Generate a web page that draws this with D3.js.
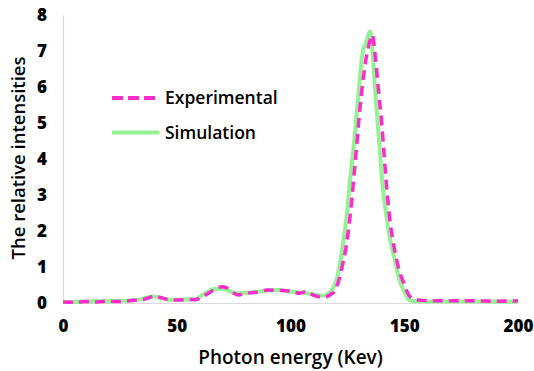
<!DOCTYPE html>
<html>
<head>
<meta charset="utf-8">
<script src="https://cdn.jsdelivr.net/npm/d3@7"></script>
<style>
  body { margin: 0; background: #fff; }
  text { font-family: "Open Sans", sans-serif; fill: #000; }
</style>
</head>
<body>
<div id="chart"></div>
<script>
// photon energy (keV)
var energy = [0, 5, 10, 15, 20, 25, 30, 34, 38, 40, 42, 46, 50, 55, 58, 62, 66, 70, 72, 75, 77, 80,
  85, 90, 95, 100, 104, 107, 110, 112, 114, 116, 118,
  119, 120, 121, 122, 123, 124, 125, 126, 127, 128, 129, 130, 131, 132, 133, 134, 135, 136, 137, 138,
  139, 140, 141, 142, 143, 144, 145, 146, 147, 148, 149, 150, 151, 152, 153,
  155, 157, 160, 170, 180, 190, 200];

var experimental = [0.03, 0.02, 0.04, 0.03, 0.05, 0.04, 0.07, 0.08, 0.15, 0.2, 0.17, 0.1, 0.08, 0.1, 0.09, 0.2, 0.35, 0.45, 0.42, 0.28, 0.22, 0.27,
  0.3, 0.36, 0.35, 0.33, 0.27, 0.32, 0.22, 0.18, 0.15, 0.18, 0.25,
  0.3, 0.42, 0.58, 0.8, 1.1, 1.4, 1.8, 2.3, 2.9, 3.6, 4.3, 5.05, 5.7, 6.25, 6.7, 7.05, 7.3, 7.45, 7.0, 6.35,
  5.7, 5.05, 4.25, 3.4, 2.7, 2.15, 1.75, 1.4, 1.1, 0.85, 0.68, 0.52, 0.35, 0.22, 0.15,
  0.1, 0.08, 0.07, 0.06, 0.06, 0.05, 0.06];

var simulation = [0.03, 0.03, 0.04, 0.05, 0.05, 0.06, 0.07, 0.1, 0.17, 0.18, 0.15, 0.1, 0.09, 0.1, 0.11, 0.25, 0.38, 0.4, 0.37, 0.28, 0.27, 0.28,
  0.31, 0.35, 0.36, 0.32, 0.29, 0.27, 0.24, 0.22, 0.2, 0.24, 0.35,
  0.45, 0.6, 0.85, 1.2, 1.6, 2.1, 2.6, 3.3, 3.9, 4.5, 5.2, 5.9, 6.6, 7.05, 7.2, 7.4, 7.55, 7.0, 6.1, 5.25,
  4.45, 3.6, 2.95, 2.5, 2.05, 1.7, 1.42, 1.15, 0.85, 0.62, 0.45, 0.3, 0.18, 0.1, 0.07,
  0.05, 0.04, 0.04, 0.04, 0.04, 0.04, 0.04];

var xTicks = [0, 50, 100, 150, 200];
var yTicks = [0, 1, 2, 3, 4, 5, 6, 7, 8];
var seriesNames = ['Experimental', 'Simulation'];

var W = 534, H = 371;
var margin = { top: 15, right: 16, bottom: 68, left: 63 };
var width = W - margin.left - margin.right;
var height = H - margin.top - margin.bottom;

var svg = d3.select('#chart')
  .append('svg')
  .attr('width', W)
  .attr('height', H)
  .append('g')
  .attr('transform', `translate(${margin.left},${margin.top})`);

var x = d3.scaleLinear().domain([0, 200]).range([0, width]);
var y = d3.scaleLinear().domain([0, 8]).range([height, 0]);

// axes (light gray lines, no tick marks)
var xAxis = svg.append('g')
  .attr('transform', `translate(0,${height})`)
  .call(d3.axisBottom(x).tickValues(xTicks).tickSize(0).tickPadding(17));
var yAxis = svg.append('g')
  .call(d3.axisLeft(y).tickValues(yTicks).tickSize(0).tickPadding(16));
[xAxis, yAxis].forEach(function (a) {
  a.select('.domain').attr('stroke', '#d9d9d9').attr('stroke-width', 1.2);
  a.selectAll('text')
    .attr('font-family', '"Open Sans", sans-serif')
    .attr('font-size', 17)
    .attr('font-weight', 800)
    .attr('fill', '#000');
});

var sim = energy.map(function (e, i) { return { x: e, y: simulation[i] }; });
var exp = energy.map(function (e, i) { return { x: e, y: experimental[i] }; });

var line = d3.line()
  .x(function (d) { return x(d.x); })
  .y(function (d) { return y(d.y); })
  .curve(d3.curveMonotoneX);

svg.append('path')
  .datum(sim)
  .attr('fill', 'none')
  .attr('stroke', '#94f294')
  .attr('stroke-width', 4)
  .attr('stroke-linejoin', 'round')
  .attr('d', line);

svg.append('path')
  .datum(exp)
  .attr('fill', 'none')
  .attr('stroke', '#ff2ccb')
  .attr('stroke-width', 3.5)
  .attr('stroke-dasharray', '10,6')
  .attr('d', line);

// legend
var legend = svg.append('g').attr('transform', 'translate(49,83)');
var styles = [
  { stroke: '#ff2ccb', width: 4, dash: '11,5' },
  { stroke: '#94f294', width: 4, dash: null }
];
seriesNames.forEach(function (name, i) {
  var row = legend.append('g').attr('transform', `translate(0,${i * 34.5})`);
  row.append('line')
    .attr('x1', 0).attr('x2', 47)
    .attr('y1', 0).attr('y2', 0)
    .attr('stroke', styles[i].stroke)
    .attr('stroke-width', styles[i].width)
    .attr('stroke-dasharray', styles[i].dash);
  row.append('text')
    .attr('x', 53)
    .attr('y', 0)
    .attr('dy', '0.35em')
    .attr('font-size', 17.5)
    .attr('font-weight', 600)
    .attr('fill', '#1a1a1a')
    .text(name);
});

// axis titles
svg.append('text')
  .attr('x', width / 2)
  .attr('y', height + 54)
  .attr('dy', '0.35em')
  .attr('text-anchor', 'middle')
  .attr('font-size', 19)
  .attr('font-weight', 600)
  .attr('fill', '#1a1a1a')
  .text('Photon energy (Kev)');

svg.append('text')
  .attr('transform', `translate(${19 - margin.left},${158 - margin.top}) rotate(-90)`)
  .attr('dy', '0.35em')
  .attr('text-anchor', 'middle')
  .attr('font-size', 18.5)
  .attr('font-weight', 600)
  .attr('fill', '#1a1a1a')
  .text('The relative intensities');
</script>
</body>
</html>
